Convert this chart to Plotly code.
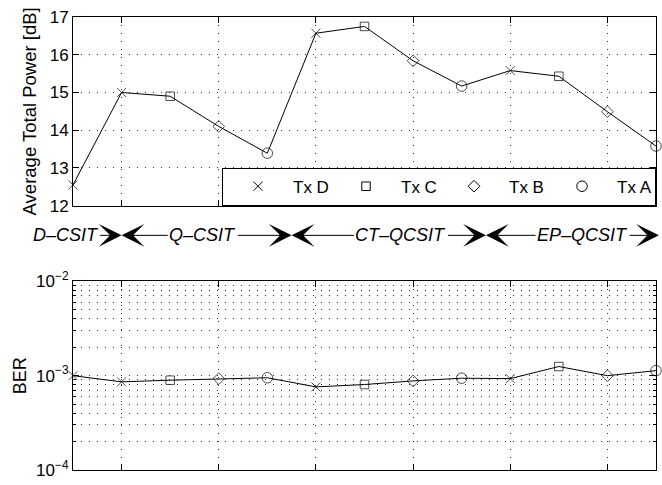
import plotly.graph_objects as go

# ---------------- data ----------------
idx = list(range(13))
tx = ['D', 'D', 'C', 'B', 'A', 'D', 'C', 'B', 'A', 'D', 'C', 'B', 'A']
power_db = [12.55, 15.0, 14.9, 14.1, 13.39, 16.57, 16.75, 15.84, 15.17, 15.58, 15.43, 14.49, 13.58]
ber = [1.0e-3, 0.86e-3, 0.895e-3, 0.93e-3, 0.95e-3, 0.76e-3, 0.805e-3, 0.88e-3,
       0.94e-3, 0.93e-3, 1.25e-3, 1.0e-3, 1.13e-3]
legend_tx = ['D', 'C', 'B', 'A']
legend_names = ['Tx D', 'Tx C', 'Tx B', 'Tx A']
power_ticks = [12, 13, 14, 15, 16, 17]
ber_ticks = [1e-4, 1e-3, 1e-2]
ber_ticktext = ['10<sup>−4</sup>', '10<sup>−3</sup>', '10<sup>−2</sup>']
ber_minor = [m * 10.0 ** e for e in (-4, -3) for m in range(2, 10)]
x_ticks = [1, 3, 5, 7, 9, 11]
# scheme labels: text, label centre, left boundary, right boundary
schemes = ['D–CSIT', 'Q–CSIT', 'CT–QCSIT', 'EP–QCSIT']
scheme_centre = [-0.15, 2.67, 6.75, 10.49]
scheme_left = [None, 1, 4.5, 8.5]
scheme_right = [1, 4.5, 8.5, 12.06]

sym = {'D': 'x-thin-open', 'C': 'square-open', 'B': 'diamond-open', 'A': 'circle-open'}
size = {'D': 9, 'C': 8.5, 'B': 9, 'A': 10.5}

FONT = 'Liberation Sans, Arial, Helvetica, sans-serif'

fig = go.Figure()

mk = dict(symbol=[sym[t] for t in tx], size=[size[t] for t in tx],
          color='black', line=dict(color='black', width=1))

fig.add_trace(go.Scatter(x=idx, y=power_db, mode='lines+markers', showlegend=False,
                         line=dict(color='black', width=1), marker=mk, cliponaxis=False,
                         xaxis='x', yaxis='y'))
fig.add_trace(go.Scatter(x=idx, y=ber, mode='lines+markers', showlegend=False,
                         line=dict(color='black', width=1), marker=mk, cliponaxis=False,
                         xaxis='x2', yaxis='y2'))
for t, n in zip(legend_tx, legend_names):
    fig.add_trace(go.Scatter(x=[None], y=[None], mode='markers', name=n,
                             marker=dict(symbol=sym[t], size=size[t], color='black',
                                         line=dict(color='black', width=1)),
                             xaxis='x', yaxis='y'))

TOP_DOM = [0.5835, 1.0]
BOT_DOM = [0.0, 0.4165]
grid_dash = '1px,7px'
GRID_COL = '#333333'
common_x = dict(range=[0, 12], tickmode='array', tickvals=x_ticks, showticklabels=False,
                ticks='inside', ticklen=6, tickcolor='black', showline=True, linecolor='black',
                linewidth=1, mirror='ticks', showgrid=True, gridcolor=GRID_COL, gridwidth=1,
                griddash=grid_dash, zeroline=False)

fig.update_layout(
    width=662, height=485,
    margin=dict(l=73, r=5, t=13, b=11),
    paper_bgcolor='white', plot_bgcolor='white',
    font=dict(family=FONT, size=17, color='black'),
    xaxis=dict(domain=[0, 1], anchor='y', **common_x),
    xaxis2=dict(domain=[0, 1], anchor='y2', **common_x),
    yaxis=dict(domain=TOP_DOM, anchor='x', range=[12, 17], tickmode='array', tickvals=power_ticks,
               ticks='inside', ticklen=6, tickcolor='black', showline=True, linecolor='black',
               linewidth=1, mirror='ticks', showgrid=True, gridcolor=GRID_COL, gridwidth=1,
               griddash=grid_dash, zeroline=False,
               title=dict(text='Average Total Power [dB]', font=dict(size=18.5), standoff=8)),
    yaxis2=dict(domain=BOT_DOM, anchor='x2', type='log', range=[-4, -2], tickmode='array',
                tickvals=ber_ticks, ticktext=ber_ticktext,
                ticks='inside', ticklen=6, tickcolor='black', showline=True, linecolor='black',
                linewidth=1, mirror='ticks', showgrid=True, gridcolor=GRID_COL, gridwidth=1,
                griddash=grid_dash, zeroline=False,
                minor=dict(tickmode='array', tickvals=ber_minor, ticks='inside', ticklen=3,
                           tickcolor='black', showgrid=True, gridcolor=GRID_COL, gridwidth=1,
                           griddash=grid_dash),
                title=dict(text='BER', font=dict(size=18), standoff=4)),
    legend=dict(orientation='h', x=1, xanchor='right', y=TOP_DOM[0], yanchor='bottom',
                bgcolor='white', bordercolor='black', borderwidth=1,
                itemwidth=60, entrywidth=33, font=dict(size=17),
                itemclick=False, itemdoubleclick=False),
)

ypos = 0.518
for text, c, lft, rgt in zip(schemes, scheme_centre, scheme_left, scheme_right):
    fig.add_annotation(x=rgt, y=ypos, xref='x', yref='paper', ax=c, ay=0, axref='x',
                       ayref='pixel', text='<i>%s</i>' % text, showarrow=True,
                       arrowhead=3, arrowsize=3.8, arrowwidth=1, arrowcolor='black',
                       standoff=0, font=dict(size=18, family=FONT, color='black'))
    if lft is not None:
        fig.add_annotation(x=lft, y=ypos, xref='x', yref='paper', ax=c, ay=0, axref='x',
                           ayref='pixel', text='<i>%s</i>' % text, showarrow=True,
                           arrowhead=3, arrowsize=3.8, arrowwidth=1, arrowcolor='black',
                           standoff=0, font=dict(size=18, family=FONT, color='rgba(0,0,0,0)'))

fig.write_html('out.html', config={'displayModeBar': False},
               post_script="document.body.style.margin='0px';document.body.style.padding='0px';")
